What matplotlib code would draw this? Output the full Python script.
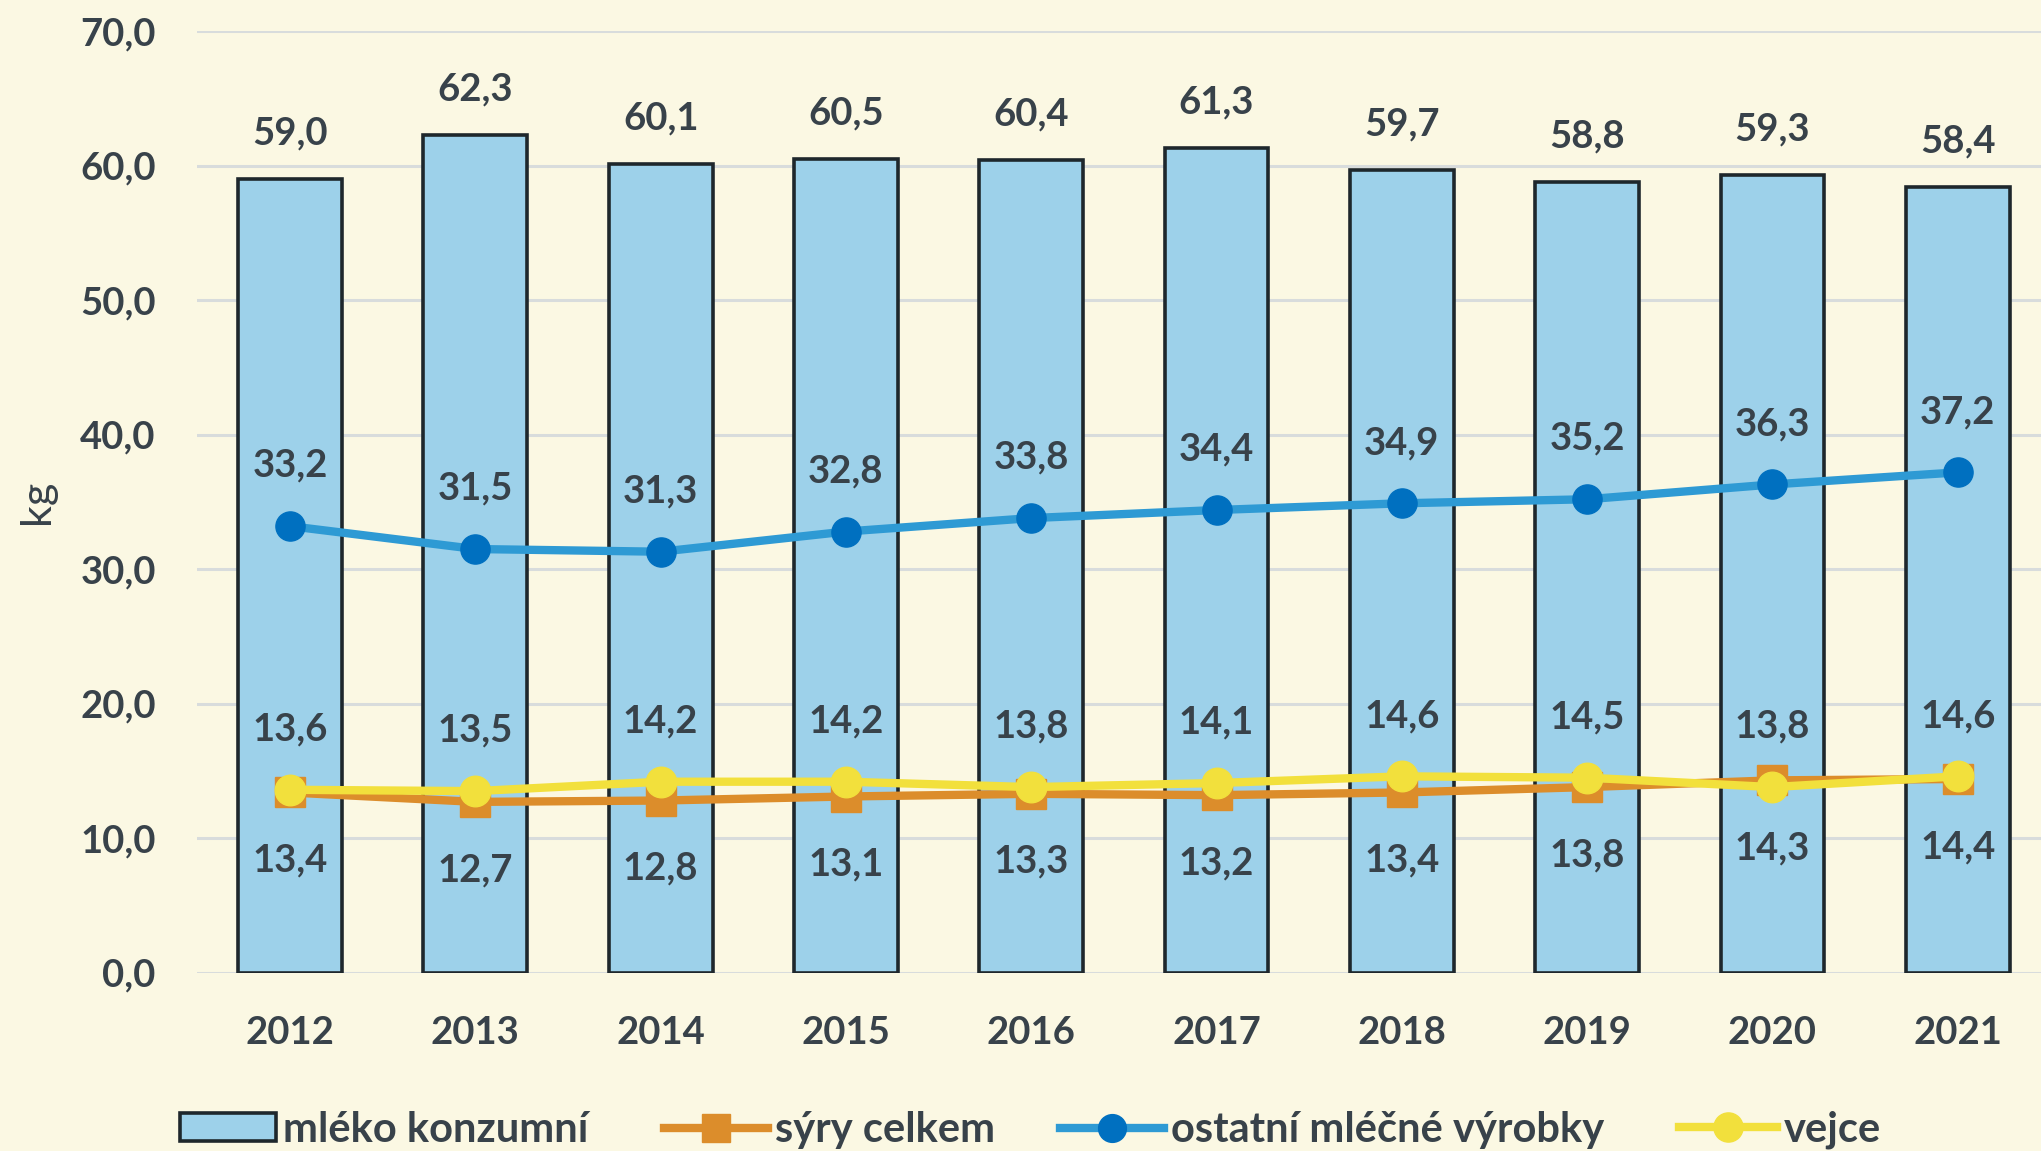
import numpy as np
import matplotlib
matplotlib.use("Agg")
import matplotlib.pyplot as plt
from matplotlib.lines import Line2D
from matplotlib.patches import Patch

# ---- data ----
years = ["2012", "2013", "2014", "2015", "2016", "2017", "2018", "2019", "2020", "2021"]
mleko = [59.0, 62.3, 60.1, 60.5, 60.4, 61.3, 59.7, 58.8, 59.3, 58.4]
ostatni = [33.2, 31.5, 31.3, 32.8, 33.8, 34.4, 34.9, 35.2, 36.3, 37.2]
syry = [13.4, 12.7, 12.8, 13.1, 13.3, 13.2, 13.4, 13.8, 14.3, 14.4]
vejce = [13.6, 13.5, 14.2, 14.2, 13.8, 14.1, 14.6, 14.5, 13.8, 14.6]
yticks = [0, 10, 20, 30, 40, 50, 60, 70]
series_names = ["mléko konzumní", "sýry celkem", "ostatní mléčné výrobky", "vejce"]
ylabel = "kg"

# ---- style ----
FAM = ["Lato", "DejaVu Sans"]
BG = "#FBF8E3"
TXT = "#38424A"
BAR = "#9DD1EA"
BAR_EDGE = "#1E272C"
BLUE_L, BLUE_M = "#2E9AD4", "#0070C0"
ORANGE = "#DC8D2B"
YELLOW = "#F2E03C"
FS = 27.5
LFS = 30

W, H = 2041, 1151
fig = plt.figure(figsize=(W / 100, H / 100), dpi=100, facecolor=BG)
left_px, x0_px, step_px = 197.4, 290.0, 185.3
y0_px, y70_px = 972.7, 31.2
ax = fig.add_axes([left_px / W, (H - y0_px) / H, 1 - left_px / W, (y0_px - y70_px) / H])
ax.set_facecolor(BG)

x = np.arange(len(years))
ax.bar(x, mleko, width=0.56, color=BAR, edgecolor=BAR_EDGE, linewidth=2.6, zorder=2)
ax.plot(x, ostatni, color=BLUE_L, lw=6, marker="o", ms=21, mfc=BLUE_M, mec=BLUE_M, zorder=3)
ax.plot(x, syry, color=ORANGE, lw=6, marker="s", ms=21, mfc=ORANGE, mec=ORANGE, zorder=4)
ax.plot(x, vejce, color=YELLOW, lw=6, marker="o", ms=22, mfc=YELLOW, mec=YELLOW, zorder=5)

ax.set_xlim(-0.5, (W - x0_px) / step_px)
ax.set_ylim(0, 70)
ax.set_yticks(yticks)
ax.set_yticklabels([f"{v:.1f}".replace(".", ",") for v in yticks])
ax.set_xticks(x)
ax.set_xticklabels(years)
for lab in ax.get_xticklabels() + ax.get_yticklabels():
    lab.set_fontfamily(FAM)
    lab.set_fontweight("bold")
    lab.set_fontsize(FS)
    lab.set_color(TXT)
ax.tick_params(axis="both", length=0)
ax.tick_params(axis="y", pad=30)
ax.tick_params(axis="x", pad=31)
ax.yaxis.grid(True, color="#D8DCDC", lw=2.2)
ax.set_axisbelow(True)
for s in ax.spines.values():
    s.set_visible(False)

def fmt(v):
    return f"{v:.1f}".replace(".", ",")

def label(vals, dy):
    for xi, v in zip(x, vals):
        ax.annotate(fmt(v), (xi, v), xytext=(0, dy), textcoords="offset points",
                    ha="center", va="baseline", fontsize=FS, fontweight="bold",
                    color=TXT, family=FAM, zorder=7)

label(mleko, 25)
label(ostatni, 35.5)
label(vejce, 35.5)
label(syry, -57)

fig.text(37 / W, 1 - 502 / H, ylabel, rotation=90, ha="center", va="center",
         fontsize=31, color=TXT, family=FAM)

# ---- legend (one entry per legend to place precisely) ----
handles = [
    Patch(facecolor=BAR, edgecolor=BAR_EDGE, linewidth=2.6),
    Line2D([], [], color=ORANGE, lw=6, marker="s", ms=20, mfc=ORANGE, mec=ORANGE),
    Line2D([], [], color=BLUE_L, lw=6, marker="o", ms=20, mfc=BLUE_M, mec=BLUE_M),
    Line2D([], [], color=YELLOW, lw=6, marker="o", ms=21, mfc=YELLOW, mec=YELLOW),
]
starts = [180, 664, 1060, 1679]
hlens = [2.3, 2.5, 2.5, 2.35]
for h, name, xs, hl in zip(handles, series_names, starts, hlens):
    leg = fig.legend(handles=[h], labels=[name], loc="center left",
                     bbox_to_anchor=(xs / W, 21 / H), frameon=False, borderpad=0,
                     borderaxespad=0, handlelength=hl, handletextpad=0.17,
                     handleheight=0.65, numpoints=1,
                     prop={"family": FAM, "weight": "bold", "size": LFS})
    for t in leg.get_texts():
        t.set_color(TXT)

fig.savefig("out.png", dpi=100, facecolor=BG)
